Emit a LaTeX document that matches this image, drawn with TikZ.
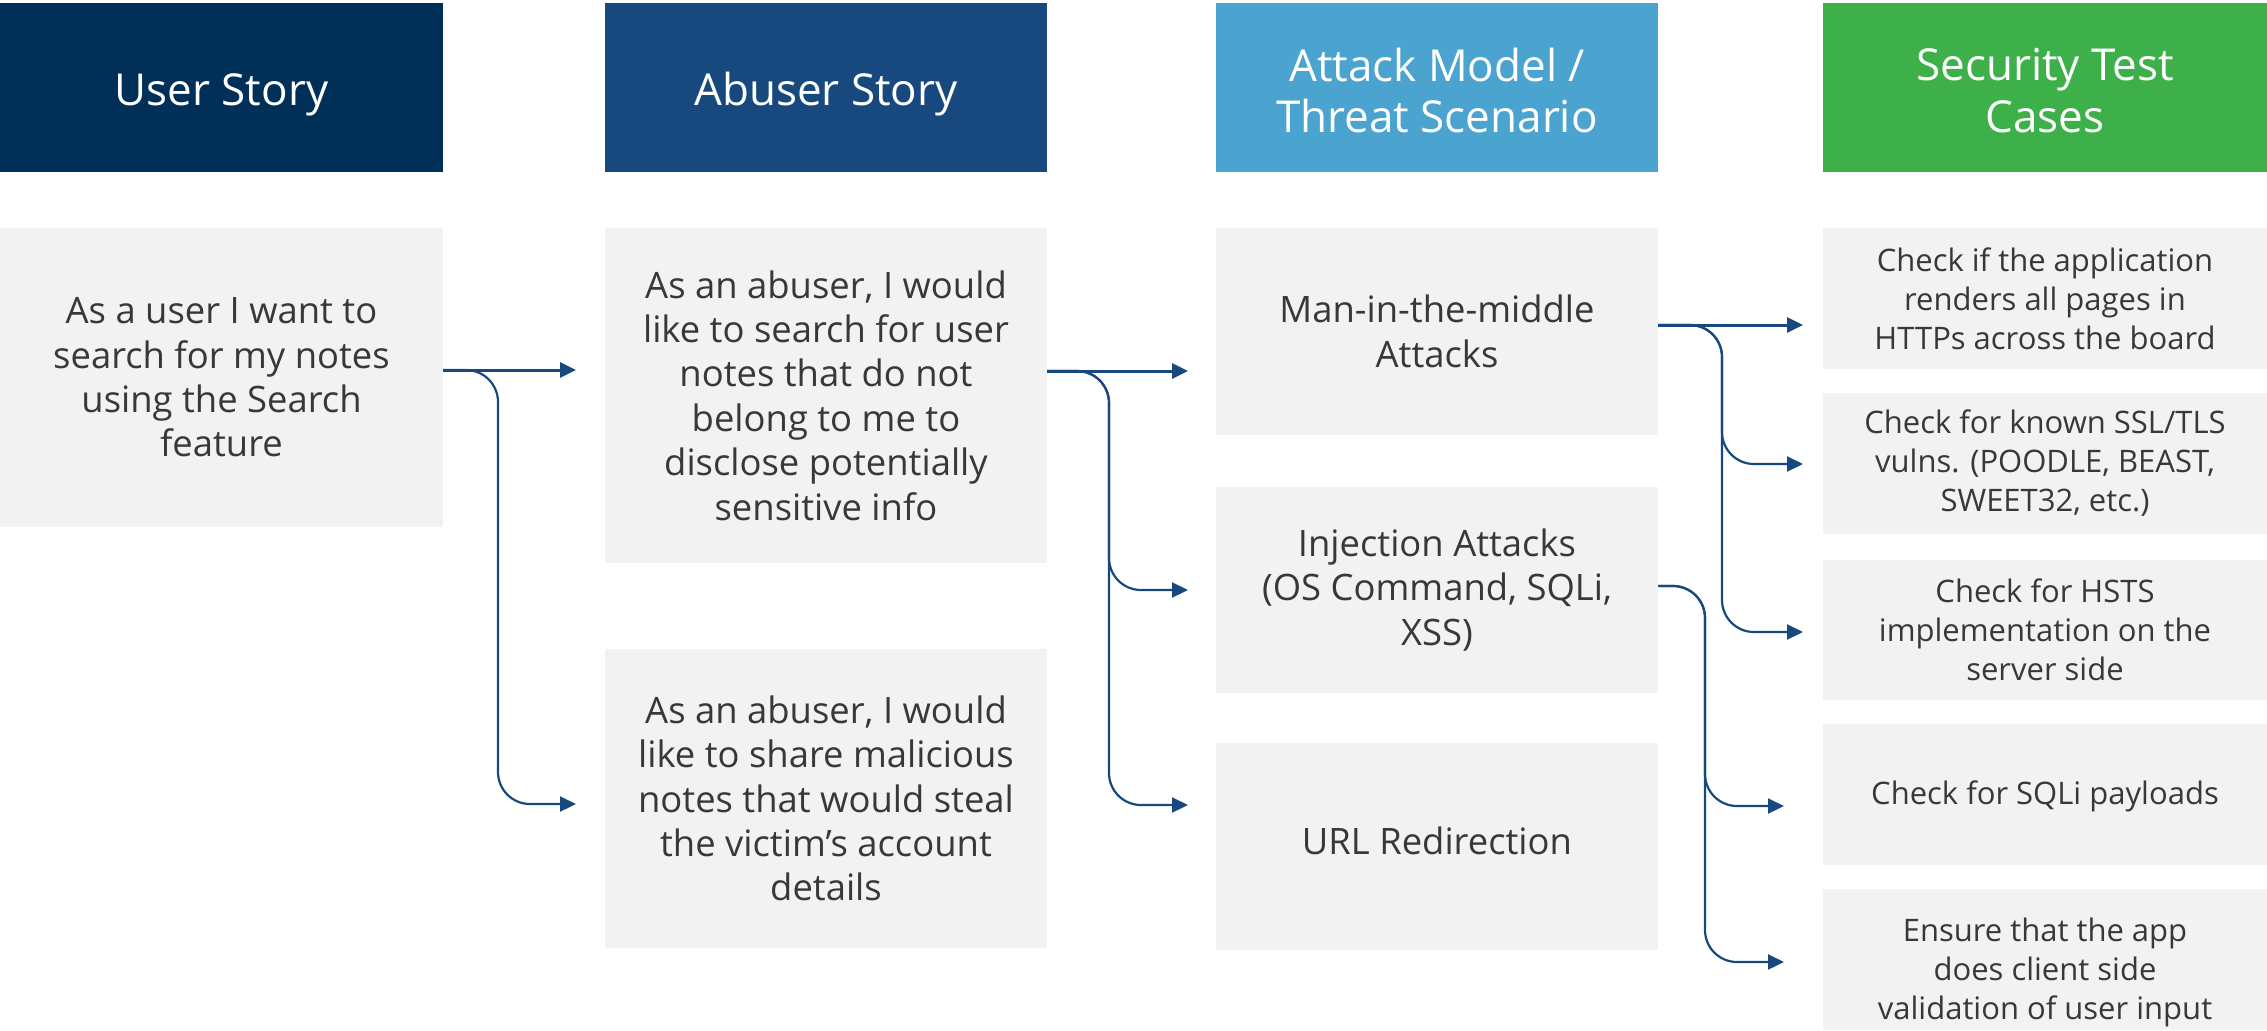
\documentclass[tikz,border=0pt]{standalone}
\usepackage{fontspec}
\setmainfont{Open Sans}
\usetikzlibrary{arrows.meta}
\definecolor{hdrA}{HTML}{003057}
\definecolor{hdrB}{HTML}{17497F}
\definecolor{hdrC}{HTML}{4BA3CF}
\definecolor{hdrD}{HTML}{3DB04A}
\definecolor{boxgrey}{HTML}{F2F2F2}
\definecolor{txtgrey}{HTML}{383838}
\definecolor{linkblue}{HTML}{17497F}
\tikzset{
  hdr/.style={inner sep=0pt, minimum height=84.5pt},
  hdrtext/.style={inner sep=0pt, align=center, text=white,
    font=\fontsize{22}{25.7}\selectfont},
  gbox/.style={fill=boxgrey, inner sep=0pt, align=center, text=txtgrey,
    font=\fontsize{18.2}{22.2}\selectfont},
  sbox/.style={fill=boxgrey, inner sep=0pt, align=center, text=txtgrey,
    minimum width=222pt, font=\fontsize{15.5}{19.5}\selectfont},
  stext/.style={inner sep=0pt, align=center, text=txtgrey, font=\fontsize{15.5}{19.5}\selectfont},
  mainlink/.style={draw=linkblue, line width=1.5pt, -{Triangle[length=8pt,width=7.5pt]}},
  branchlink/.style={draw=linkblue, line width=1.1pt, rounded corners=16pt, -{Triangle[length=8pt,width=7.5pt]}}
}
\begin{document}
\begin{tikzpicture}[x=0.5pt,y=-0.5pt]
\useasboundingbox[fill=white] (0,0) rectangle (2267,1030);
% headers
\node[hdr, fill=hdrA, minimum width=221.5pt] (h1) at (221.5,87.5) {};
\node[hdr, fill=hdrB, minimum width=221pt] (h2) at (826,87.5) {};
\node[hdr, fill=hdrC, minimum width=221pt] (h3) at (1437,87.5) {};
\node[hdr, fill=hdrD, minimum width=222pt] (h4) at (2045,87.5) {};
\node[hdrtext] (h1t) at ([yshift=-3.5pt]h1.center) {User Story};
\node[hdrtext] (h2t) at ([yshift=-3.5pt]h2.center) {Abuser Story};
\node[hdrtext] (h3t) at ([yshift=-1.5pt]h3.center) {Attack Model /\\Threat Scenario};
\node[hdrtext] (h4t) at ([yshift=-1.5pt]h4.center) {Security Test\\Cases};
% user story
\node[gbox, minimum width=221.5pt, minimum height=149.5pt] (us) at (221.5,377.5)
  {As a user I want to\\search for my notes\\using the Search\\feature};
% abuser stories
\node[gbox, minimum width=221pt, minimum height=167.5pt] (ab1) at (826,395.5)
  {As an abuser, I would\\like to search for user\\notes that do not\\belong to me to\\disclose potentially\\sensitive info};
\node[gbox, minimum width=221pt, minimum height=149.5pt] (ab2) at (826,798.5)
  {As an abuser, I would\\like to share malicious\\notes that would steal\\the victim’s account\\details};
% attacks
\node[gbox, minimum width=221pt, minimum height=103.5pt] (at1) at (1437,331.5)
  {Man-in-the-middle\\Attacks};
\node[gbox, minimum width=221pt, minimum height=103pt] (at2) at (1437,590)
  {Injection Attacks\\(OS Command, SQLi,\\XSS)};
\node[gbox, minimum width=221pt, minimum height=103.5pt] (at3) at (1437,846.5) {};
\node[inner sep=0pt, text=txtgrey, font=\fontsize{18.2}{22.2}\selectfont] (at3t) at ([yshift=3pt]at3.center)
  {URL Redirection};
% security test cases
\node[sbox, minimum height=70.5pt] (sc1) at (2045,298.5)
  {Check if the application\\renders all pages in\\HTTPs across the board};
\node[sbox, minimum height=70.5pt] (sc2) at (2045,463.5)
  {Check for known SSL/TLS\\vulns. (POODLE, BEAST,\\SWEET32, etc.)};
\node[sbox, minimum height=70pt] (sc3) at (2045,630)
  {Check for HSTS\\implementation on the\\server side};
\node[sbox, minimum height=70.5pt] (sc4) at (2045,794.5) {};
\node[stext] (sc4t) at ([yshift=-1pt]sc4.center) {Check for SQLi payloads};
\node[sbox, minimum height=70.5pt] (sc5) at (2045,959.5) {};
\node[stext] (sc5t) at (2045,972)
  {Ensure that the app\\does client side\\validation of user input};
% connector coordinates
\coordinate (c1s) at (us.east |- 0,370);
\coordinate (j1) at (498,370);
\coordinate (c1a) at (576,370);
\coordinate (c1b) at (576,804);
\coordinate (c2s) at (ab1.east |- 0,371);
\coordinate (j2) at (1109,371);
\coordinate (c2a) at (1188,371);
\coordinate (c2b) at (1188,590);
\coordinate (c2c) at (1188,805);
\coordinate (c3s) at (at1.east |- 0,325);
\coordinate (j3) at (1722,325);
\coordinate (c3a) at (1803,325);
\coordinate (c3b) at (1803,464);
\coordinate (c3c) at (1803,632);
\coordinate (c4s) at (at2.east |- 0,586);
\coordinate (j4) at (1705,586);
\coordinate (c4a) at (1784,806);
\coordinate (c4b) at (1784,962);
% connectors
\draw[mainlink] (c1s) -- (c1a);
\draw[branchlink] (c1s) -- (j1) |- (c1b);
\draw[mainlink] (c2s) -- (c2a);
\draw[branchlink] (c2s) -- (j2) |- (c2b);
\draw[branchlink] (c2s) -- (j2) |- (c2c);
\draw[mainlink] (c3s) -- (c3a);
\draw[branchlink] (c3s) -- (j3) |- (c3b);
\draw[branchlink] (c3s) -- (j3) |- (c3c);
\draw[branchlink] (c4s) -- (j4) |- (c4a);
\draw[branchlink] (c4s) -- (j4) |- (c4b);
\end{tikzpicture}
\end{document}
